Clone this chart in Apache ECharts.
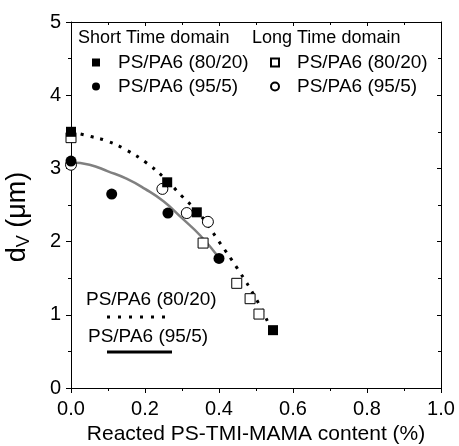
<!DOCTYPE html>
<html style="height: 100%">
<head>
    <meta charset="utf-8">
    <script type="text/javascript" src="https://cdn.jsdelivr.net/npm/echarts@6/dist/echarts.min.js"></script>
</head>
<body style="height: 100%; margin: 0; background: #fff">
    <div id="main" style="height: 446px; width: 459px;"></div>
    <script type="text/javascript">
        // measured points
        var short8020X = [0, 0.26, 0.34, 0.546];
        var short8020Y = [3.5, 2.81, 2.40, 0.79];
        var short955X = [0, 0.11, 0.262, 0.40];
        var short955Y = [3.1, 2.65, 2.39, 1.77];
        var long8020X = [0, 0.357, 0.448, 0.484, 0.508];
        var long8020Y = [3.42, 1.98, 1.43, 1.22, 1.01];
        var long955X = [0, 0.247, 0.313, 0.37];
        var long955Y = [3.05, 2.72, 2.39, 2.27];

        // fitted curves
        var fit8020X = [0, 0.05, 0.1, 0.15, 0.2, 0.25, 0.3, 0.35, 0.4, 0.45, 0.5, 0.532];
        var fit8020Y = [3.5, 3.44, 3.37, 3.25, 3.09, 2.88, 2.62, 2.36, 2.00, 1.63, 1.22, 0.90];
        var fit955X = [0, 0.05, 0.1, 0.15, 0.2, 0.25, 0.3, 0.35, 0.4];
        var fit955Y = [3.08, 3.05, 2.96, 2.86, 2.72, 2.55, 2.32, 2.08, 1.78];

        var legendNames = {
            S8020: 'PS/PA6 (80/20)', S955: 'PS/PA6 (95/5)',
            L8020: 'PS/PA6 (80/20)', L955: 'PS/PA6 (95/5)'
        };

        function zip(xs, ys) {
            return xs.map(function (x, i) { return [x, ys[i]]; });
        }

        var font = '"Liberation Sans", Arial, sans-serif';
        var chart = echarts.init(document.getElementById('main'));

        var axisBase = {
            type: 'value',
            axisLine: { show: true, onZero: false, lineStyle: { color: '#000', width: 1 } },
            splitLine: { show: false },
            minorTick: { show: true, splitNumber: 2, length: 3, lineStyle: { color: '#000' } },
            axisTick: { show: true, length: 5, lineStyle: { color: '#000' } }
        };

        var option = {
            animation: false,
            backgroundColor: '#fff',
            grid: { left: 71, right: 18, top: 22, bottom: 58, containLabel: false, outerBoundsMode: 'none' },
            xAxis: [
                Object.assign({}, axisBase, {
                    min: 0, max: 1, interval: 0.2, position: 'bottom',
                    axisLabel: { color: '#000', fontSize: 20, fontFamily: font, margin: 11,
                        formatter: function (v) { return v.toFixed(1); } },
                    name: 'Reacted PS-TMI-MAMA content (%)',
                    nameLocation: 'middle', nameGap: 36,
                    nameTextStyle: { color: '#000', fontSize: 21, fontFamily: font }
                }),
                Object.assign({}, axisBase, {
                    min: 0, max: 1, interval: 0.2, position: 'top',
                    axisLabel: { show: false },
                    axisTick: { show: true, inside: true, length: 4, lineStyle: { color: '#000' } }
                })
            ],
            yAxis: [
                Object.assign({}, axisBase, {
                    min: 0, max: 5, interval: 1, position: 'left',
                    axisLabel: { color: '#000', fontSize: 20, fontFamily: font, margin: 10 },
                    name: 'd{sub|V} (μm)',
                    nameLocation: 'middle', nameGap: 38,
                    nameTextStyle: { color: '#000', fontSize: 27, fontFamily: font, padding: [0, 24, 0, 0],
                        rich: { sub: { fontSize: 18, fontFamily: font, color: '#000', padding: [12, 0, 0, 0] } } }
                }),
                Object.assign({}, axisBase, {
                    min: 0, max: 5, interval: 1, position: 'right',
                    axisLabel: { show: false },
                    axisTick: { show: true, inside: true, length: 4, lineStyle: { color: '#000' } }
                })
            ],
            legend: [
                {
                    data: ['S8020', 'S955'], orient: 'vertical', left: 92, top: 52, padding: 0,
                    itemWidth: 8, itemHeight: 8, itemGap: 3,
                    formatter: function (n) { return legendNames[n]; },
                    textStyle: { color: '#000', fontSize: 19, fontFamily: font, lineHeight: 21, padding: [0, 0, 0, 13] }
                },
                {
                    data: ['L8020', 'L955'], orient: 'vertical', left: 270, top: 52, padding: 0,
                    itemWidth: 8, itemHeight: 8, itemGap: 3,
                    formatter: function (n) { return legendNames[n]; },
                    textStyle: { color: '#000', fontSize: 19, fontFamily: font, lineHeight: 21, padding: [0, 0, 0, 13] }
                }
            ],
            graphic: [
                { type: 'text', left: 78, top: 29, style: { text: 'Short Time domain', fill: '#000', font: '18px ' + font } },
                { type: 'text', left: 252, top: 29, style: { text: 'Long Time domain', fill: '#000', font: '18px ' + font } },
                { type: 'text', left: 86, top: 290, style: { text: 'PS/PA6 (80/20)', fill: '#000', font: '19px ' + font } },
                { type: 'line', shape: { x1: 107, y1: 317, x2: 172, y2: 317 },
                  style: { stroke: '#000', lineWidth: 3, lineDash: [3, 8] } },
                { type: 'text', left: 88, top: 327, style: { text: 'PS/PA6 (95/5)', fill: '#000', font: '19px ' + font } },
                { type: 'line', shape: { x1: 107, y1: 352, x2: 172, y2: 352 },
                  style: { stroke: '#000', lineWidth: 3 } }
            ],
            series: [
                {
                    name: 'fit8020', type: 'line', data: zip(fit8020X, fit8020Y), smooth: true,
                    showSymbol: false, symbol: 'none', z: 1,
                    lineStyle: { color: '#000', width: 3, type: [3, 7] }
                },
                {
                    name: 'fit955', type: 'line', data: zip(fit955X, fit955Y), smooth: true,
                    showSymbol: false, symbol: 'none', z: 1,
                    lineStyle: { color: '#808080', width: 2.5 }
                },
                {
                    name: 'S8020', type: 'scatter', data: zip(short8020X, short8020Y),
                    symbol: 'rect', symbolSize: 10, z: 3,
                    itemStyle: { color: '#000', opacity: 1 }
                },
                {
                    name: 'S955', type: 'scatter', data: zip(short955X, short955Y),
                    symbol: 'circle', symbolSize: 11, z: 3,
                    itemStyle: { color: '#000', opacity: 1 }
                },
                {
                    name: 'L8020', type: 'scatter', data: zip(long8020X, long8020Y),
                    symbol: 'rect', symbolSize: 10, z: 2,
                    itemStyle: { color: '#fff', borderColor: '#000', borderWidth: 1, opacity: 1 }
                },
                {
                    name: 'L955', type: 'scatter', data: zip(long955X, long955Y),
                    symbol: 'circle', symbolSize: 11, z: 2,
                    itemStyle: { color: '#fff', borderColor: '#000', borderWidth: 1, opacity: 1 }
                }
            ]
        };

        chart.setOption(option);
    </script>
</body>
</html>
